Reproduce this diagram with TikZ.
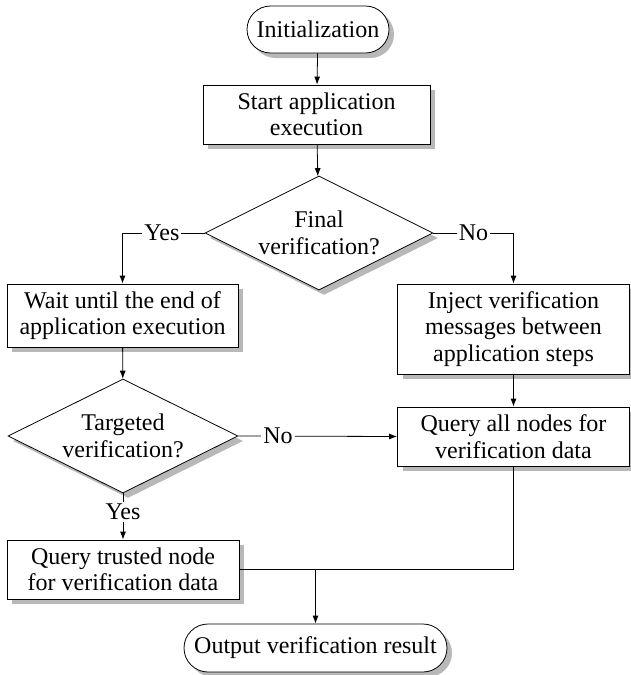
\documentclass[tikz,border=0pt]{standalone}
\usepackage{fontspec}
\setmainfont{Liberation Serif}
\usetikzlibrary{shapes.geometric,shapes.misc,shadows,arrows.meta}
\tikzset{
  base/.style={draw=black, line width=0.8pt, fill=white, align=center, inner sep=0pt,
    font=\fontsize{24}{26.5}\selectfont,
    drop shadow={shadow xshift=5pt, shadow yshift=-5pt, fill=black!28, opacity=1}},
  procbox/.style={base, rectangle},
  termbox/.style={base, rounded rectangle},
  decbox/.style={base, diamond, aspect=2},
  conn/.style={line width=0.8pt, draw=black},
  arr/.style={conn, -{Latex[length=8pt,width=6pt]}},
  lbl/.style={fill=white, inner sep=2pt, font=\fontsize{24}{26.5}\selectfont}
}
\begin{document}
\begin{tikzpicture}[x=1pt,y=-1pt]
\useasboundingbox (0,0) rectangle (630,675);
\node[termbox, minimum width=142pt, minimum height=47pt] (init) at (318,29.5) {Initialization};
\node[procbox, minimum width=227pt, minimum height=59pt] (start) at (316.5,114.5) {Start application\\execution};
\node[decbox, minimum width=228pt, minimum height=114pt] (final) at (319,233) {Final\\verification?};
\node[procbox, minimum width=231pt, minimum height=63pt] (wait) at (122.5,315.5) {Wait until the end of\\application execution};
\node[procbox, minimum width=232pt, minimum height=90pt] (inject) at (513.5,329) {Inject verification\\messages between\\application steps};
\node[decbox, minimum width=230pt, minimum height=114pt] (targ) at (123,436) {Targeted\\verification?};
\node[procbox, minimum width=232pt, minimum height=59pt] (qall) at (513.5,436.5) {Query all nodes for\\verification data};
\node[procbox, minimum width=232pt, minimum height=59pt] (qtrust) at (123,569.5) {Query trusted node\\for verification data};
\node[termbox, minimum width=263pt, minimum height=48pt] (out) at (315.5,648) {Output verification result};

\draw[arr] (init) -- (start);
\draw[arr] (start) -- (final);
\draw[arr] (final.west) -- node[lbl, pos=0.52]{Yes} (final.west -| wait.north) -- (wait.north);
\draw[arr] (final.east) -- node[lbl]{No} (final.east -| inject.north) -- (inject.north);
\draw[arr] (wait) -- (targ);
\draw[arr] (inject) -- (qall);
\draw[arr] (targ.east) -- node[lbl, pos=0.25]{No} (qall.west);
\draw[arr] (targ.south) -- node[lbl, pos=0.4]{Yes} (qtrust.north);
\coordinate (merge) at (qtrust.east -| out.north);
\draw[conn] (qtrust.east) -| (qall.south);
\draw[arr] (merge) -- (out.north);
\end{tikzpicture}
\end{document}
